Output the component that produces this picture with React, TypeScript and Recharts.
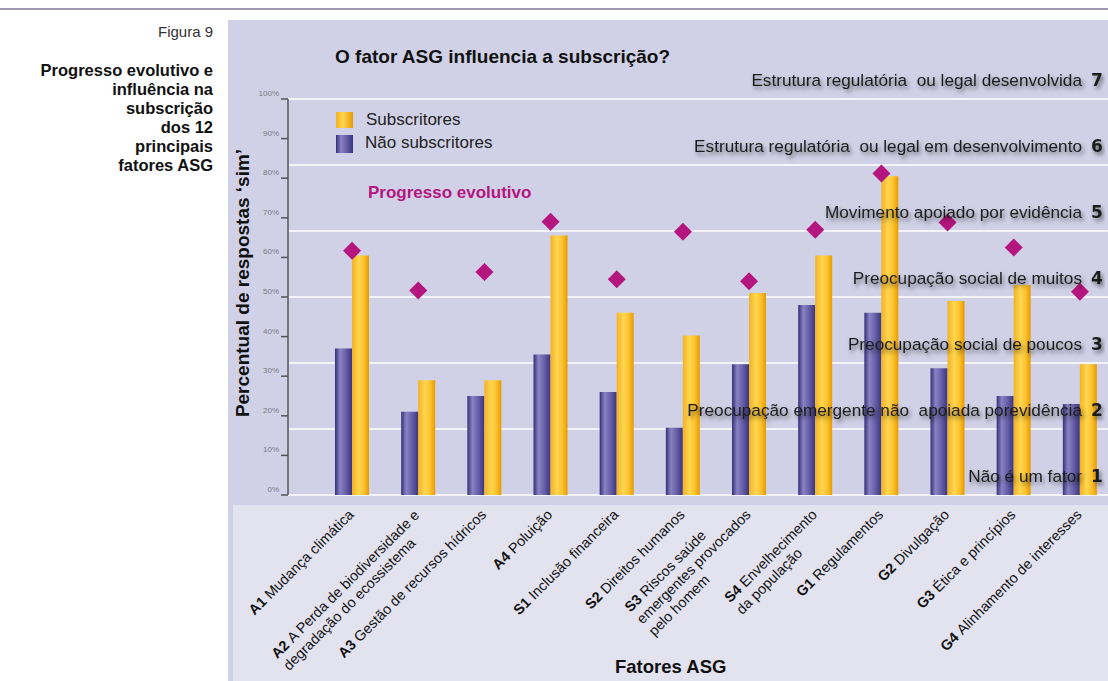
import React from 'react';
import { ComposedChart, Bar, Scatter, XAxis, YAxis, CartesianGrid } from 'recharts';

const codes = ['A1', 'A2', 'A3', 'A4', 'S1', 'S2', 'S3', 'S4', 'G1', 'G2', 'G3', 'G4'];
const labelLines: string[][] = [
  ['Mudança climática'],
  ['A Perda de biodiversidade e', 'degradação do ecossistema'],
  ['Gestão de recursos hídricos'],
  ['Poluição'],
  ['Inclusão financeira'],
  ['Direitos humanos'],
  ['Riscos saúde', 'emergentes provocados', 'pelo homem'],
  ['Envelhecimento', 'da população'],
  ['Regulamentos'],
  ['Divulgação'],
  ['Ética e princípios'],
  ['Alinhamento de interesses'],
];
const naoSubscritores = [37, 21, 25, 35.5, 26, 17, 33, 48, 46, 32, 25, 23];
const subscritores = [60.5, 29, 29, 65.5, 46, 40.3, 51, 60.5, 80.5, 49, 53, 33];
const progresso = [4.7, 4.1, 4.38, 5.14, 4.27, 4.99, 4.24, 5.02, 5.87, 5.13, 4.75, 4.08];
const pctTicks = [0, 10, 20, 30, 40, 50, 60, 70, 80, 90, 100];
const levelTicks = [1, 2, 3, 4, 5, 6, 7];
const levelLabels = [
  'Não é um fator',
  'Preocupação emergente não  apoiada porevidência',
  'Preocupação social de poucos',
  'Preocupação social de muitos',
  'Movimento apoiado por evidência',
  'Estrutura regulatória  ou legal em desenvolvimento',
  'Estrutura regulatória  ou legal desenvolvida',
];
const titleLines = ['Progresso evolutivo e', 'influência na', 'subscrição', 'dos 12', 'principais', 'fatores ASG'];

const data = codes.map((c, i) => ({
  code: c,
  nao: naoSubscritores[i],
  sub: subscritores[i],
  prog: progresso[i],
}));

const FONT = "'Liberation Sans', Arial, sans-serif";
const XFS = 14.4;
const LH = 17;

let ctx: CanvasRenderingContext2D | null = null;
function measure(text: string, font: string): number {
  if (!ctx) ctx = document.createElement('canvas').getContext('2d');
  if (!ctx) return text.length * 7;
  ctx.font = font;
  return ctx.measureText(text).width;
}

const XTick = (props: any) => {
  const { x, y, payload } = props;
  const i = codes.indexOf(payload.value);
  const lines = labelLines[i] || [];
  const widths = lines.map((ln, k) =>
    k === 0
      ? measure(codes[i] + ' ', `bold ${XFS}px ${FONT}`) + measure(ln, `${XFS}px ${FONT}`)
      : measure(ln, `${XFS}px ${FONT}`)
  );
  let iL = 0;
  widths.forEach((w, k) => { if (w > widths[iL]) iL = k; });
  const Lmax = widths[iL];
  return (
    <g transform={`translate(${x - 1},${y + 15}) rotate(-45)`}>
      {lines.map((ln, k) => (
        <text key={k} x={-Lmax} y={(k - iL) * LH} dy="0.35em" textAnchor="start" fontSize={XFS} fill="#111" fontFamily={FONT}>
          {k === 0 && <tspan fontWeight="bold">{codes[i] + ' '}</tspan>}
          {ln}
        </text>
      ))}
    </g>
  );
};

const PctTick = (props: any) => {
  const { x, y, payload } = props;
  return (
    <text x={x} y={y - 3} textAnchor="end" fontSize={8} fill="#7a7a86" fontFamily={FONT}>
      {payload.value + '%'}
    </text>
  );
};

const LevelTick = (props: any) => {
  const { y, payload } = props;
  const v = payload.value as number;
  const right = 1113;
  return (
    <g>
      <text x={right - 31} y={y - 19} dy="0.35em" textAnchor="end" fontSize={17.2} fill="#1e1e1e" fontFamily={FONT} filter="url(#txtShadow)" style={{ whiteSpace: 'pre' }}>
        {levelLabels[v - 1]}
      </text>
      <text x={right - 16} y={y - 19} dy="0.35em" textAnchor="middle" fontSize={17} fontWeight="bold" fill="#1e1e1e" fontFamily="'DejaVu Sans', sans-serif" filter="url(#txtShadow)">
        {String(v)}
      </text>
    </g>
  );
};

const Diamond = (props: any) => {
  const { cx, cy } = props;
  const r = 9;
  return <polygon points={`${cx},${cy - r} ${cx + r},${cy} ${cx},${cy + r} ${cx - r},${cy}`} fill="#b5157e" />;
};

export default function App() {
  return (
    <div style={{ position: 'absolute', left: 0, top: 0, width: 1108, height: 681, overflow: 'hidden', background: '#fff', fontFamily: FONT }}>
      <svg width={0} height={0} style={{ position: 'absolute' }}>
        <defs>
          <linearGradient id="gPurple" x1="0" y1="0" x2="1" y2="0">
            <stop offset="0%" stopColor="#34307a" />
            <stop offset="30%" stopColor="#8a82c2" />
            <stop offset="60%" stopColor="#6b63aa" />
            <stop offset="100%" stopColor="#3a3582" />
          </linearGradient>
          <linearGradient id="gYellow" x1="0" y1="0" x2="1" y2="0">
            <stop offset="0%" stopColor="#f3b224" />
            <stop offset="40%" stopColor="#ffd650" />
            <stop offset="70%" stopColor="#fcc22e" />
            <stop offset="100%" stopColor="#e69a00" />
          </linearGradient>
          <filter id="txtShadow" x="-10%" y="-50%" width="120%" height="220%">
            <feDropShadow dx="2" dy="3" stdDeviation="2" floodColor="#000" floodOpacity="0.5" />
          </filter>
        </defs>
      </svg>
      <div style={{ position: 'absolute', left: 0, top: 8, width: 1108, height: 2, background: '#a497b6' }} />
      <div style={{ position: 'absolute', left: 228, top: 20, width: 880, height: 661, background: '#d0d1e7' }} />
      <div style={{ position: 'absolute', left: 233, top: 505, width: 875, height: 176, background: '#e3e3f0' }} />
      <div style={{ position: 'absolute', right: 1108 - 213, top: 23, fontSize: 15, color: '#333', whiteSpace: 'nowrap', lineHeight: '18px' }}>Figura 9</div>
      <div style={{ position: 'absolute', right: 1108 - 213, top: 61, fontSize: 16.5, fontWeight: 'bold', color: '#111', textAlign: 'right', lineHeight: '19px', whiteSpace: 'nowrap' }}>
        {titleLines.map((t, i) => <div key={i}>{t}</div>)}
      </div>
      <div style={{ position: 'absolute', left: 0, top: 0 }}>
        <ComposedChart width={1120} height={681} data={data} margin={{ top: 99, right: 6, bottom: 156, left: 228 }} barGap={0}>
          <CartesianGrid yAxisId="lvl" vertical={false} stroke="#f4f4fa" strokeWidth={2} />
          <XAxis dataKey="code" height={30} padding={{ left: 31, right: 0 }} axisLine={false} tickLine={false} tickSize={0} interval={0} tick={<XTick />} />
          <YAxis yAxisId="pct" orientation="left" width={60} domain={[0, 100]} ticks={pctTicks} interval={0} tickSize={7} tickMargin={2} stroke="#555" axisLine={{ stroke: '#555', strokeWidth: 1.5 }} tickLine={{ stroke: '#555', strokeWidth: 1.5 }} tick={<PctTick />} />
          <YAxis yAxisId="lvl" orientation="right" width={1} domain={[1, 7]} ticks={levelTicks} interval={0} axisLine={false} tickLine={false} tickSize={0} tick={<LevelTick />} />
          <Bar yAxisId="pct" dataKey="nao" barSize={17} fill="url(#gPurple)" isAnimationActive={false} />
          <Bar yAxisId="pct" dataKey="sub" barSize={17} fill="url(#gYellow)" isAnimationActive={false} />
          <Scatter yAxisId="lvl" dataKey="prog" shape={<Diamond />} isAnimationActive={false} />
        </ComposedChart>
      </div>
      <div style={{ position: 'absolute', left: 233, top: 143, width: 20, height: 280, display: 'flex', alignItems: 'center', justifyContent: 'center' }}>
        <div style={{ transform: 'rotate(-90deg)', whiteSpace: 'nowrap', fontSize: 19, fontWeight: 'bold', color: '#111' }}>Percentual de respostas ‘sim’</div>
      </div>
      <div style={{ position: 'absolute', left: 335, top: 46, fontSize: 19, fontWeight: 'bold', color: '#111', whiteSpace: 'nowrap', lineHeight: '22px' }}>O fator ASG influencia a subscrição?</div>
      <div style={{ position: 'absolute', left: 336, top: 112, width: 17, height: 16, background: 'linear-gradient(to right, #f3b224, #ffd650 40%, #e69a00)' }} />
      <div style={{ position: 'absolute', left: 336, top: 135, width: 17, height: 18, background: 'linear-gradient(to right, #34307a, #8a82c2 30%, #3a3582)' }} />
      <div style={{ position: 'absolute', left: 366, top: 110, fontSize: 17, color: '#222', whiteSpace: 'nowrap', lineHeight: '20px' }}>Subscritores</div>
      <div style={{ position: 'absolute', left: 365, top: 133, fontSize: 17, color: '#222', whiteSpace: 'nowrap', lineHeight: '20px' }}>Não subscritores</div>
      <div style={{ position: 'absolute', left: 368, top: 183, fontSize: 17, fontWeight: 'bold', color: '#b5157e', whiteSpace: 'nowrap', lineHeight: '20px' }}>Progresso evolutivo</div>
      <div style={{ position: 'absolute', left: 615, top: 656, fontSize: 18.5, fontWeight: 'bold', color: '#111', whiteSpace: 'nowrap', lineHeight: '22px' }}>Fatores ASG</div>
    </div>
  );
}
